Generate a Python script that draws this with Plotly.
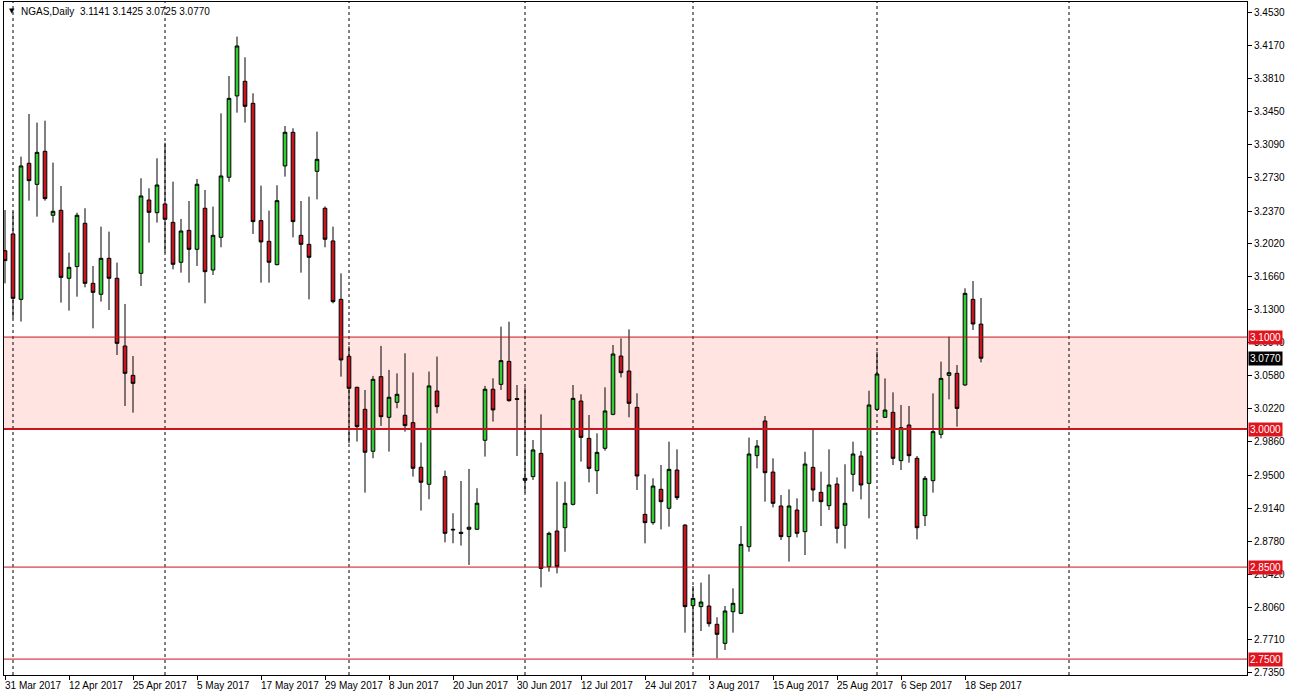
import plotly.graph_objects as go

# ---- data ----
open_ = [3.1939, 3.2121, 3.1410, 3.2889, 3.2660, 3.3019, 3.2324, 3.2378, 3.1639, 3.1766,
         3.2237, 3.1584, 3.1465, 3.1856, 3.1639, 3.0903, 3.0584, 3.1693, 3.2490, 3.2352,
         3.2447, 3.2247, 3.1813, 3.2160, 3.1954, 3.2400, 3.1729, 3.2084, 3.2737, 3.3621,
         3.3780, 3.3541, 3.2266, 3.2041, 3.1787, 3.2860, 3.3226, 3.2106, 3.2008, 3.2802,
         3.2400, 3.2045, 3.1410, 3.0791, 3.0454, 3.0215, 2.9759, 3.0570, 3.0128, 3.0291,
         3.0150, 3.0070, 2.9585, 2.9400, 3.0414, 2.9483, 2.8911, 2.8878, 2.8911, 2.8911,
         2.9878, 3.0433, 3.0486, 3.0736, 3.0331, 2.9443, 2.9483, 2.9736, 2.8504, 2.8892,
         2.8928, 2.9182, 3.0305, 2.9899, 2.9548, 2.9791, 3.0160, 3.0794, 3.0631, 3.0236,
         2.9073, 2.8983, 2.9345, 2.9139, 2.9555, 2.8957, 2.8081, 2.8070, 2.8077, 2.7878,
         2.7671, 2.8015, 2.7997, 2.8722, 2.9711, 3.0088, 2.9533, 2.9164, 2.8831, 2.9120,
         2.8885, 2.9584, 2.9312, 2.9167, 2.9403, 2.8954, 2.9508, 2.9707, 2.9410, 3.0214,
         3.0128, 3.0182, 2.9657, 3.0044, 2.9682, 2.9059, 2.9439, 2.9943, 3.0584, 3.0606,
         3.0479, 3.1410, 3.1141]
high = [3.2381, 3.2363, 3.2961, 3.3425, 3.3331, 3.3352, 3.2896, 3.2642, 3.1918, 3.2352,
        3.2400, 3.1773, 3.2200, 3.2146, 3.1809, 3.1360, 3.0794, 3.2726, 3.2617, 3.2943,
        3.3113, 3.2689, 3.2284, 3.2479, 3.2718, 3.2599, 3.2418, 3.3432, 3.3838, 3.4266,
        3.4041, 3.3650, 3.2646, 3.2374, 3.2650, 3.3294, 3.3269, 3.2479, 3.2526, 3.3233,
        3.2420, 3.2200, 3.1693, 3.0900, 3.0460, 3.0425, 3.0578, 3.0904, 3.0643, 3.0606,
        3.0824, 3.0614, 2.9853, 3.0625, 3.0788, 2.9549, 2.9085, 2.9436, 2.9567, 2.9357,
        3.0469, 3.0552, 3.1113, 3.1167, 3.0479, 3.0454, 2.9881, 3.0160, 2.8885, 2.9428,
        2.9428, 3.0479, 3.0378, 3.0153, 2.9954, 3.0454, 3.0914, 3.0986, 3.1084, 3.0389,
        2.9508, 2.9465, 2.9610, 2.9863, 2.9780, 2.8965, 2.8294, 2.8331, 2.8421, 2.7954,
        2.8077, 2.8269, 2.8946, 2.9907, 2.9881, 3.0142, 2.9682, 2.9283, 2.9345, 2.9247,
        2.9754, 3.0008, 2.9537, 2.9780, 2.9475, 2.9617, 2.9863, 2.9762, 3.0417, 3.0841,
        3.0551, 3.0399, 3.0262, 3.0251, 2.9707, 2.9490, 3.0388, 3.0733, 3.1004, 3.0696,
        3.1530, 3.1609, 3.1425]
low = [3.1584, 3.1204, 3.1168, 3.2483, 3.2309, 3.2483, 3.2244, 3.1374, 3.1287, 3.1439,
       3.1541, 3.1095, 3.1385, 3.1294, 3.0805, 3.0251, 3.0179, 3.1555, 3.2026, 3.2244,
       3.1918, 3.1736, 3.1700, 3.1591, 3.1773, 3.1367, 3.1675, 3.1976, 3.2689, 3.3439,
       3.3331, 3.2121, 3.1591, 3.1591, 3.1780, 3.2744, 3.2084, 3.1700, 3.1410, 3.2497,
       3.1976, 3.1367, 3.0570, 2.9846, 2.9864, 2.9309, 2.9683, 3.0034, 2.9755, 3.0226,
       2.9972, 2.9483, 2.9114, 2.9237, 3.0172, 2.8769, 2.8759, 2.8733, 2.8523, 2.8904,
       2.9701, 3.0081, 3.0425, 3.0298, 2.9707, 2.9309, 2.9447, 2.8280, 2.8450, 2.8432,
       2.8667, 2.9170, 2.9646, 2.9421, 2.9294, 2.9765, 3.0150, 3.0562, 3.0128, 2.9338,
       2.8758, 2.8960, 2.8910, 2.8939, 2.9229, 2.7787, 2.7544, 2.7805, 2.7852, 2.7508,
       2.7599, 2.7787, 2.7990, 2.8667, 2.9573, 2.9211, 2.9149, 2.8794, 2.8559, 2.8823,
       2.8631, 2.9211, 2.8946, 2.9120, 2.8758, 2.8700, 2.9320, 2.9236, 2.9030, 3.0200,
       3.0120, 2.9609, 2.9555, 2.9635, 2.8801, 2.8946, 2.9309, 2.9899, 3.0323, 3.0026,
       3.0470, 3.1077, 3.0725]
close = [3.1831, 3.1421, 3.2860, 3.2700, 3.3008, 3.2505, 3.2367, 3.1649, 3.1758, 3.2324,
         3.1584, 3.1486, 3.1856, 3.1639, 3.0932, 3.0606, 3.0497, 3.2534, 3.2356, 3.2653,
         3.2280, 3.1791, 3.2153, 3.1954, 3.2661, 3.1711, 3.2106, 3.2751, 3.3595, 3.4164,
         3.3508, 3.2255, 3.2034, 3.1813, 3.2483, 3.3226, 3.2255, 3.2008, 3.1867, 3.2932,
         3.2063, 3.1385, 3.0751, 3.0443, 3.0027, 2.9748, 3.0541, 3.0135, 3.0346, 3.0378,
         3.0038, 2.9574, 2.9422, 3.0469, 3.0244, 2.8867, 2.8905, 2.8867, 2.8933, 2.9194,
         3.0433, 3.0208, 3.0744, 3.0309, 3.0323, 2.9465, 2.9773, 2.8486, 2.8867, 2.8504,
         2.9193, 3.0334, 2.9910, 2.9573, 2.9747, 3.0197, 3.0816, 3.0613, 3.0280, 2.9490,
         2.8983, 2.9381, 2.9211, 2.9562, 2.9254, 2.8070, 2.8160, 2.8120, 2.7885, 2.7769,
         2.8023, 2.8106, 2.8747, 2.9729, 2.9816, 2.9526, 2.9193, 2.8831, 2.9164, 2.8867,
         2.9620, 2.9338, 2.9211, 2.9392, 2.8921, 2.9193, 2.9729, 2.9392, 3.0262, 3.0599,
         3.0207, 2.9682, 3.0015, 2.9711, 2.8928, 2.9465, 2.9972, 3.0551, 3.0613, 3.0225,
         3.1475, 3.1142, 3.0770]

date_labels = ["31 Mar 2017", "12 Apr 2017", "25 Apr 2017", "5 May 2017", "17 May 2017",
               "29 May 2017", "8 Jun 2017", "20 Jun 2017", "30 Jun 2017", "12 Jul 2017",
               "24 Jul 2017", "3 Aug 2017", "15 Aug 2017", "25 Aug 2017", "6 Sep 2017",
               "18 Sep 2017"]
date_label_bars = [0, 8, 16, 24, 32, 40, 48, 56, 64, 72, 80, 88, 96, 104, 112, 120]
month_start_bars = [1, 20, 43, 65, 86, 109, 133]

y_tick_labels = ["3.4530", "3.4170", "3.3810", "3.3450", "3.3090", "3.2730", "3.2370",
                 "3.2020", "3.1660", "3.1300", "3.0940", "3.0580", "3.0220", "2.9860",
                 "2.9500", "2.9140", "2.8780", "2.8420", "2.8060", "2.7710", "2.7350"]

levels = [3.1000, 3.0000, 2.8500, 2.7500]
level_widths = [1, 2, 1, 1]
zone = (3.0000, 3.1000)
last_price = 3.0770
title_text = "NGAS,Daily  3.1141 3.1425 3.0725 3.0770"

# ---- figure ----
FONT = "Liberation Sans"
RED_LINE = "#C8141E"
RED_BOX = "#E0141E"

x = list(range(len(open_)))

fig = go.Figure(go.Candlestick(
    x=x, open=open_, high=high, low=low, close=close,
    increasing=dict(fillcolor="#32CD32", line=dict(color="black", width=1)),
    decreasing=dict(fillcolor="#C8141E", line=dict(color="black", width=1)),
    whiskerwidth=0, showlegend=False, hoverinfo="skip",
))

shapes = [dict(type="rect", xref="paper", x0=0, x1=1, yref="y", y0=zone[0], y1=zone[1],
               fillcolor="#FFE4E1", line=dict(width=0), layer="below")]
for b in month_start_bars:
    shapes.append(dict(type="line", xref="x", x0=b, x1=b, yref="paper", y0=0, y1=1,
                       line=dict(color="black", width=1, dash="3px,3px"), layer="below"))
for lv, w in zip(levels, level_widths):
    shapes.append(dict(type="line", xref="paper", x0=0, x1=1, yref="y", y0=lv, y1=lv,
                       line=dict(color=RED_LINE, width=w), layer="above"))

annotations = []
for b, lab in zip(date_label_bars, date_labels):
    annotations.append(dict(x=b, xref="x", y=0, yref="paper", text=lab, showarrow=False,
                            xanchor="left", yanchor="top", xshift=-2, yshift=-3,
                            font=dict(family=FONT, size=10, color="black")))
for lv in levels:
    annotations.append(dict(x=1, xref="paper", y=lv, yref="y", text=f"{lv:.4f}",
                            showarrow=False, xanchor="left", yanchor="middle", xshift=1,
                            bgcolor=RED_BOX, borderpad=1,
                            font=dict(family=FONT, size=10, color="white")))
annotations.append(dict(x=1, xref="paper", y=last_price, yref="y", text=f"{last_price:.4f}",
                        showarrow=False, xanchor="left", yanchor="middle", xshift=1,
                        bgcolor="black", borderpad=1,
                        font=dict(family=FONT, size=10, color="white")))
annotations.append(dict(x=0, xref="paper", y=1, yref="paper", text="▼", showarrow=False,
                        xanchor="left", yanchor="top", xshift=3, yshift=-3,
                        font=dict(family="DejaVu Sans", size=7, color="black")))
annotations.append(dict(x=0, xref="paper", y=1, yref="paper", text=title_text,
                        showarrow=False, xanchor="left", yanchor="top", xshift=15, yshift=-2,
                        font=dict(family=FONT, size=10, color="black")))

fig.update_layout(
    width=1289, height=698,
    margin=dict(l=4, r=42, t=2, b=23),
    paper_bgcolor="white", plot_bgcolor="white",
    boxgap=0.35,
    shapes=shapes, annotations=annotations,
    font=dict(family=FONT, size=10, color="black"),
    xaxis=dict(range=[-0.125, 155.25], rangeslider=dict(visible=False),
               showgrid=False, zeroline=False, showline=True, linecolor="black",
               linewidth=1, mirror=True, tickvals=date_label_bars, ticks="outside",
               ticklen=4, tickcolor="black", showticklabels=False, fixedrange=True),
    yaxis=dict(range=[2.7327, 3.4642], side="right", showgrid=False, zeroline=False,
               showline=True, linecolor="black", linewidth=1, mirror=True,
               tickvals=[float(s) for s in y_tick_labels], ticktext=y_tick_labels,
               ticks="outside", ticklen=4, tickcolor="black",
               tickfont=dict(family=FONT, size=10, color="black"), fixedrange=True),
)

fig.write_html(
    "out.html",
    config={"displayModeBar": False},
    post_script="document.body.style.margin='0';document.body.style.padding='0';"
                "document.body.style.overflow='hidden';",
)
